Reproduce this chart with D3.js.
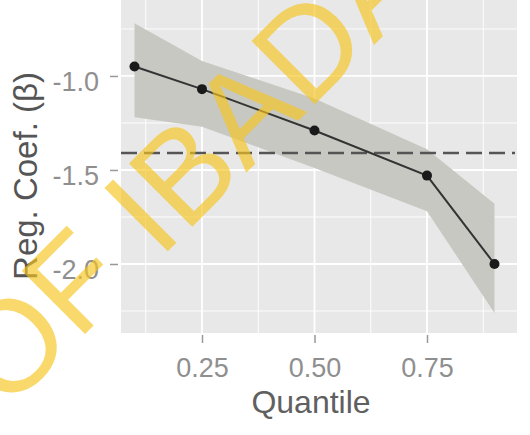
<!DOCTYPE html>
<html>
<head>
<meta charset="utf-8">
<script src="https://cdn.jsdelivr.net/npm/d3@7"></script>
<style>
  body { margin: 0; background: #fff; }
  svg { display: block; font-family: "Liberation Sans", Arial, sans-serif; }
</style>
</head>
<body>
<script>
'use strict';

// quantile regression coefficients with confidence band
const quantiles = [0.1, 0.25, 0.5, 0.75, 0.9];
const coef = [-0.95, -1.07, -1.29, -1.53, -2.0];
const lower = [-1.22, -1.27, -1.49, -1.72, -2.26];
const upper = [-0.72, -0.92, -1.12, -1.39, -1.68];
const olsCoef = -1.41;

const xTicks = [0.25, 0.5, 0.75];
const xMinor = [0.125, 0.375, 0.625, 0.875];
const yTicks = [-1.0, -1.5, -2.0];
const yMinor = [-0.75, -1.25, -1.75, -2.25];

const width = 530, height = 435;
const panel = { left: 121, right: 517, top: 0, bottom: 333 };

const svg = d3.select('body').append('svg')
  .attr('width', width)
  .attr('height', height);

let x = d3.scaleLinear().domain([0.07, 0.95]).range([panel.left, panel.right]);
let y = d3.scaleLinear().domain([-0.596, -2.367]).range([panel.top, panel.bottom]);

// panel background
svg.append('rect')
  .attr('x', panel.left).attr('y', panel.top)
  .attr('width', panel.right - panel.left)
  .attr('height', panel.bottom - panel.top)
  .attr('fill', '#e8e8e8');

let grid = svg.append('g').attr('stroke', '#fff');

grid.selectAll('.vmin').data(xMinor).enter().append('line')
  .attr('x1', d => x(d)).attr('x2', d => x(d))
  .attr('y1', panel.top).attr('y2', panel.bottom)
  .attr('stroke-width', 0.9);
grid.selectAll('.hmin').data(yMinor).enter().append('line')
  .attr('x1', panel.left).attr('x2', panel.right)
  .attr('y1', d => y(d)).attr('y2', d => y(d))
  .attr('stroke-width', 0.9);
grid.selectAll('.vmaj').data(xTicks).enter().append('line')
  .attr('x1', d => x(d)).attr('x2', d => x(d))
  .attr('y1', panel.top).attr('y2', panel.bottom)
  .attr('stroke-width', 1.8);
grid.selectAll('.hmaj').data(yTicks).enter().append('line')
  .attr('x1', panel.left).attr('x2', panel.right)
  .attr('y1', d => y(d)).attr('y2', d => y(d))
  .attr('stroke-width', 1.8);

// confidence band
let rows = quantiles.map((q, i) => ({ q, c: coef[i], lo: lower[i], hi: upper[i] }));

svg.append('path')
  .datum(rows)
  .attr('fill', '#c8c8c2')
  .attr('d', d3.area().x(d => x(d.q)).y0(d => y(d.lo)).y1(d => y(d.hi)));

// OLS reference line
svg.append('line')
  .attr('x1', panel.left).attr('x2', panel.right - 2)
  .attr('y1', y(olsCoef)).attr('y2', y(olsCoef))
  .attr('stroke', '#555')
  .attr('stroke-width', 2.5)
  .attr('stroke-dasharray', '16,7');

// coefficient line + points
svg.append('path')
  .datum(rows)
  .attr('fill', 'none')
  .attr('stroke', '#333')
  .attr('stroke-width', 2)
  .attr('d', d3.line().x(d => x(d.q)).y(d => y(d.c)));

svg.selectAll('.pt').data(rows).enter().append('circle')
  .attr('cx', d => x(d.q)).attr('cy', d => y(d.c))
  .attr('r', 5)
  .attr('fill', '#1a1a1a');

// axes
let xAxis = svg.append('g')
  .attr('transform', `translate(0,${panel.bottom + 2})`)
  .call(d3.axisBottom(x).tickValues(xTicks).tickSize(8).tickPadding(15)
    .tickFormat(d => d.toFixed(2)));
xAxis.select('.domain').remove();
xAxis.selectAll('line').attr('stroke', '#999').attr('stroke-width', 1.5);
xAxis.selectAll('text').attr('fill', '#8f8f8f').attr('font-size', 27)
  .attr('font-family', '"Liberation Sans", Arial, sans-serif');

let yAxis = svg.append('g')
  .attr('transform', `translate(${panel.left - 3},0)`)
  .call(d3.axisLeft(y).tickValues(yTicks).tickSize(8).tickPadding(11)
    .tickFormat(d => d.toFixed(1)));
yAxis.select('.domain').remove();
yAxis.selectAll('line').attr('stroke', '#999').attr('stroke-width', 1.5);
yAxis.selectAll('text').attr('fill', '#8f8f8f').attr('font-size', 27)
  .attr('dy', '0.55em')
  .attr('font-family', '"Liberation Sans", Arial, sans-serif');

// axis titles
svg.append('text')
  .attr('x', 311).attr('y', 413)
  .attr('text-anchor', 'middle')
  .attr('font-size', 32)
  .attr('fill', '#606060')
  .text('Quantile');

svg.append('text')
  .attr('transform', 'translate(37,176) rotate(-90)')
  .attr('text-anchor', 'middle')
  .attr('font-size', 33)
  .attr('fill', '#555')
  .text('Reg. Coef. (β)');

// scanned watermark
svg.append('text')
  .attr('transform', 'translate(6,413) rotate(-45)')
  .attr('font-size', 130)
  .attr('fill', '#f7c51e')
  .attr('opacity', 0.65)
  .text('OF IBADAN');
</script>
</body>
</html>
